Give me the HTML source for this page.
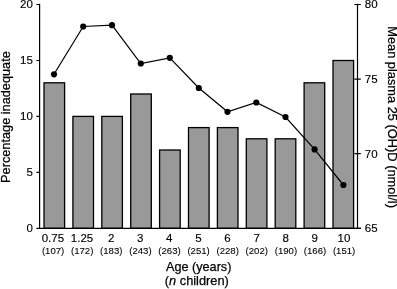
<!DOCTYPE html>
<html><head><meta charset="utf-8">
<style>
html,body{margin:0;padding:0;background:#fff;}
svg{display:block;}
text{font-family:"Liberation Sans",sans-serif;fill:#000;stroke:#000;}
</style></head><body>
<svg width="397" height="289" viewBox="0 0 397 289">
<rect width="397" height="289" fill="#fff"/>
<defs><filter id="f" x="0" y="0" width="397" height="289" filterUnits="userSpaceOnUse"><feOffset dx="0" dy="0"/></filter></defs>
<g filter="url(#f)">
<g fill="#999" stroke="#000" stroke-width="1.3">
<rect x="44.0" y="82.8" width="20.6" height="145.5"/>
<rect x="72.9" y="116.4" width="20.6" height="111.9"/>
<rect x="101.8" y="116.4" width="20.6" height="111.9"/>
<rect x="130.7" y="94.0" width="20.6" height="134.3"/>
<rect x="159.6" y="150.0" width="20.6" height="78.3"/>
<rect x="188.5" y="127.6" width="20.6" height="100.7"/>
<rect x="217.4" y="127.6" width="20.6" height="100.7"/>
<rect x="246.3" y="138.8" width="20.6" height="89.5"/>
<rect x="275.2" y="138.8" width="20.6" height="89.5"/>
<rect x="304.1" y="82.8" width="20.6" height="145.5"/>
<rect x="333.0" y="60.5" width="20.6" height="167.8"/>
</g>
<g stroke="#000" stroke-width="1.2" fill="none">
<path d="M39.6 3.7V228.3M39 228.3H361M357.5 3.7V228.3"/>
<path d="M36.4 228.3H39.6M36.4 172.4H39.6M36.4 116.4H39.6M36.4 60.5H39.6M36.4 4.5H39.6"/>
<path d="M354.4 228.3H360.8M354.4 153.7H360.8M354.4 79.1H360.8M354.4 4.5H360.8"/>
</g>
<polyline fill="none" stroke="#000" stroke-width="1.2" points="54.0,74.3 83.2,26.5 112,25.2 140.8,63.5 169.8,57.8 198.8,88 227.5,111.8 256.3,102.5 285.5,117 314.6,149.4 343.4,185"/>
<g fill="#000"><circle cx="54.0" cy="74.3" r="3.1"/><circle cx="83.2" cy="26.5" r="3.1"/><circle cx="112" cy="25.2" r="3.1"/><circle cx="140.8" cy="63.5" r="3.1"/><circle cx="169.8" cy="57.8" r="3.1"/><circle cx="198.8" cy="88" r="3.1"/><circle cx="227.5" cy="111.8" r="3.1"/><circle cx="256.3" cy="102.5" r="3.1"/><circle cx="285.5" cy="117" r="3.1"/><circle cx="314.6" cy="149.4" r="3.1"/><circle cx="343.4" cy="185" r="3.1"/></g>
<g font-size="11.5" text-anchor="end" stroke-width="0.15">
<text x="32.9" y="231.9">0</text>
<text x="32.9" y="176.0">5</text>
<text x="32.9" y="120.0">10</text>
<text x="32.9" y="64.1">15</text>
<text x="32.9" y="8.1">20</text>
</g>
<g font-size="11.5" text-anchor="start" stroke-width="0.15">
<text x="364.8" y="232.1">65</text>
<text x="364.8" y="157.5">70</text>
<text x="364.8" y="82.9">75</text>
<text x="364.8" y="8.3">80</text>
</g>
<g font-size="11.5" text-anchor="middle" stroke-width="0.15">
<text x="52.9" y="241.5">0.75</text>
<text x="82.0" y="241.5">1.25</text>
<text x="111.1" y="241.5">2</text>
<text x="140.2" y="241.5">3</text>
<text x="169.3" y="241.5">4</text>
<text x="198.4" y="241.5">5</text>
<text x="227.5" y="241.5">6</text>
<text x="256.6" y="241.5">7</text>
<text x="285.7" y="241.5">8</text>
<text x="314.8" y="241.5">9</text>
<text x="343.9" y="241.5">10</text>
</g>
<g font-size="9.6" text-anchor="middle" stroke-width="0.1">
<text x="53.1" y="253.8">(107)</text>
<text x="82.2" y="253.8">(172)</text>
<text x="111.3" y="253.8">(183)</text>
<text x="140.4" y="253.8">(243)</text>
<text x="169.5" y="253.8">(263)</text>
<text x="198.6" y="253.8">(251)</text>
<text x="227.7" y="253.8">(228)</text>
<text x="256.8" y="253.8">(202)</text>
<text x="285.9" y="253.8">(190)</text>
<text x="315.0" y="253.8">(166)</text>
<text x="344.1" y="253.8">(151)</text>
</g>
<g font-size="13" stroke-width="0.25">
<text id="t1" x="166.0" y="270.6" textLength="65.4" lengthAdjust="spacingAndGlyphs">Age (years)</text>
<text id="t2" x="164.8" y="285.3" textLength="64" lengthAdjust="spacingAndGlyphs">(<tspan font-style="italic">n</tspan> children)</text>
<text id="t3" transform="translate(10,182.9) rotate(-90)" textLength="131.7" lengthAdjust="spacingAndGlyphs">Percentage inadequate</text>
<text id="t4" transform="translate(387.5,26.2) rotate(90)" textLength="181.7" lengthAdjust="spacingAndGlyphs">Mean plasma 25 (OH)D (nmol/l)</text>
</g>
</g></svg>
</body></html>
